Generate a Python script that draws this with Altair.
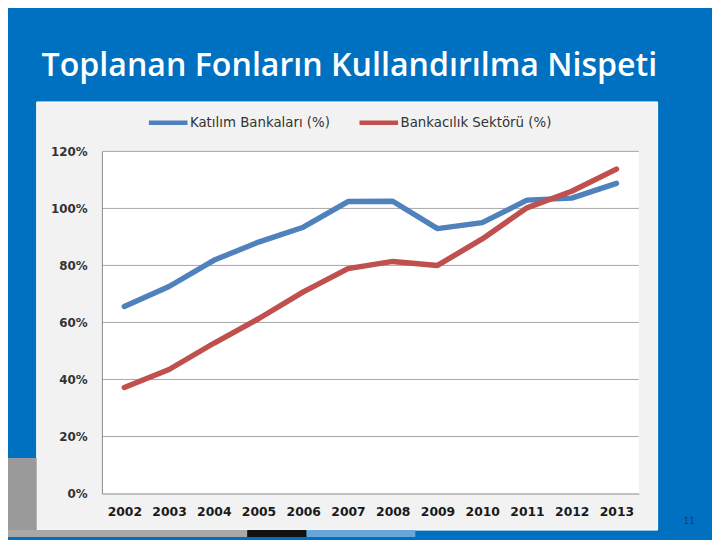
import altair as alt
import pandas as pd

years = ["2002", "2003", "2004", "2005", "2006", "2007", "2008", "2009", "2010", "2011", "2012", "2013"]
katilim = [65.6, 72.6, 81.8, 88.2, 93.4, 102.4, 102.5, 92.9, 95.0, 102.9, 103.6, 108.8]
sektor = [37.2, 43.5, 52.7, 61.3, 70.7, 78.9, 81.4, 80.0, 89.3, 100.2, 106.0, 113.8]
series_names = ["Katılım Bankaları (%)", "Bankacılık Sektörü (%)"]
series_colors = ["#4F81BD", "#C0504D"]
y_ticks = [0, 20, 40, 60, 80, 100, 120]
grid_values = [20, 40, 60, 80, 100, 120]
title_text = "Toplanan Fonların Kullandırılma Nispeti"
page_number = "11"

W, H = 543, 346

rows = []
for i, y in enumerate(years):
    rows.append({"year": y, "series": series_names[0], "value": katilim[i]})
    rows.append({"year": y, "series": series_names[1], "value": sektor[i]})
df = pd.DataFrame(rows)
one = pd.DataFrame({"d": [0]})

yscale = alt.Scale(domain=[0, 120], nice=False, zero=True)
yaxis = alt.Axis(title=None, values=y_ticks, grid=False, ticks=False,
                 domain=True, domainColor="#8C8C8C",
                 labelExpr="datum.value + '%'", labelFont="DejaVu Sans",
                 labelFontWeight="bold", labelFontSize=12,
                 labelColor="#333333", labelPadding=15, zindex=1)

def box(x1, x2, y1, y2, fill, stroke=None):
    kw = dict(fill=fill)
    if stroke:
        kw.update(stroke=stroke, strokeWidth=1)
    return alt.Chart(one).mark_rect(**kw).encode(
        x=alt.value(x1), x2=alt.value(x2), y=alt.value(y1), y2=alt.value(y2))

panel = box(-66, 562, -50, 383, "#F2F2F2", "#FFFFFF")
plotbg = box(0, W, 0, H, "#FFFFFF")
deco_left = box(-103, -66, 310, 390, "#9A9A9A")
deco_g = box(-103, 147, 383, 390, "#A8A8A8")
deco_k = box(147, 207, 383, 390, "#111111")
deco_b = box(207, 317, 383, 390, "#6AA6DA")

grid = alt.Chart(pd.DataFrame({"v": grid_values})).mark_rule(
    color="#A6A6A6", strokeWidth=1).encode(
    y=alt.Y("v:Q", scale=yscale, axis=yaxis),
    x=alt.value(0), x2=alt.value(W))

lines = alt.Chart(df).mark_line(strokeWidth=5.5, strokeCap="round", strokeJoin="round").encode(
    x=alt.X("year:O", sort=years,
            scale=alt.Scale(type="point", padding=0.5),
            axis=alt.Axis(title=None, labelAngle=0, ticks=False, domain=True,
                          domainColor="#8C8C8C", labelFont="DejaVu Sans",
                          labelFontWeight="bold", labelFontSize=12.5,
                          labelColor="#1A1A1A", labelPadding=12, zindex=1)),
    y=alt.Y("value:Q", scale=yscale, axis=yaxis),
    color=alt.Color("series:N", sort=series_names,
                    scale=alt.Scale(domain=series_names, range=series_colors),
                    legend=alt.Legend(title=None, orient="none", legendX=45, legendY=-51,
                                      direction="horizontal", symbolType="stroke",
                                      symbolSize=1521, symbolStrokeWidth=4.5,
                                      labelFont="DejaVu Sans", labelFontSize=13.5,
                                      labelColor="#333333", labelOffset=0,
                                      columnPadding=20, zindex=1)),
    detail="series:N",
)

title = alt.Chart(pd.DataFrame({"t": [title_text]})).mark_text(
    align="left", baseline="alphabetic", font="Open Sans", fontSize=32.5, fontWeight=600,
    color="#FFFFFF").encode(
    text="t:N", x=alt.value(-61), y=alt.value(-76))

pnum = alt.Chart(pd.DataFrame({"t": [page_number]})).mark_text(
    align="center", baseline="middle", font="DejaVu Sans", fontSize=9, color="#1F3864").encode(
    text="t:N", x=alt.value(594), y=alt.value(374))

chart = alt.layer(panel, plotbg, deco_left, deco_g, deco_k, deco_b, grid, lines, title, pnum).properties(
    width=W, height=H,
    autosize=alt.AutoSizeParams(type="none"),
    padding={"left": 95, "top": 142, "right": 74, "bottom": 44},
    background="#0070C0",
).configure_view(stroke=None)

chart.save("out.html", embed_options={"renderer": "svg", "actions": False})
